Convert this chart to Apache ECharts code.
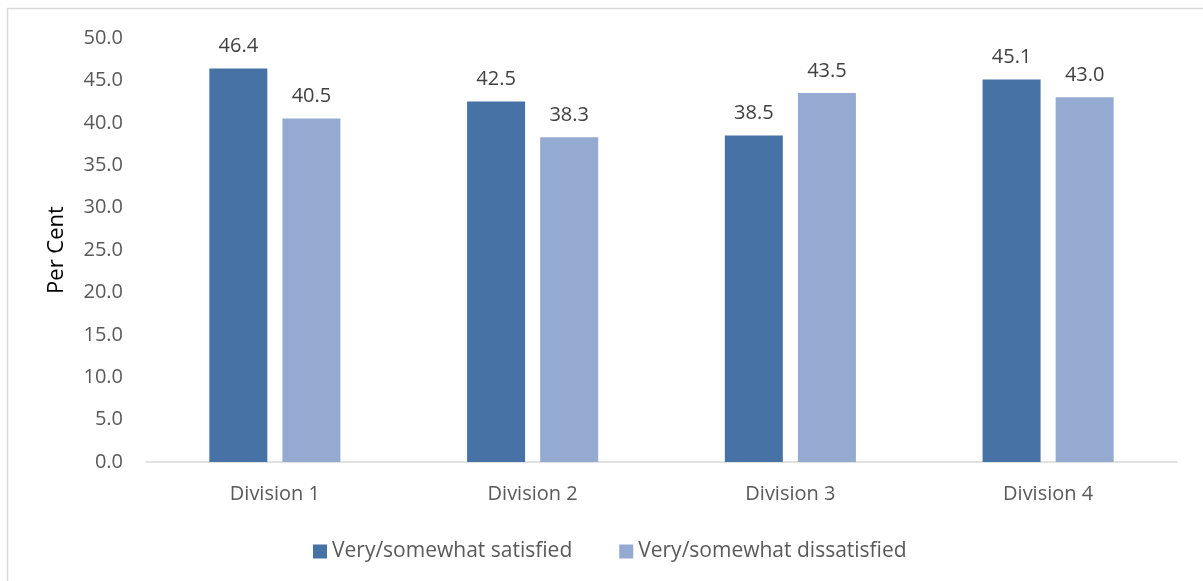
<!DOCTYPE html>
<html>
<head>
<meta charset="utf-8">
<script src="https://cdn.jsdelivr.net/npm/echarts@6/dist/echarts.min.js"></script>
<style>
  html, body { margin: 0; padding: 0; background: #fff; }
  #chart { width: 1203px; height: 581px; }
</style>
</head>
<body>
<div id="chart"></div>
<script>
const categories = ['Division 1', 'Division 2', 'Division 3', 'Division 4']
const satisfied = [46.4, 42.5, 38.5, 45.1]
const dissatisfied = [40.5, 38.3, 43.5, 43.0]
const seriesNames = ['Very/somewhat satisfied', 'Very/somewhat dissatisfied']
const yTicks = { min: 0, max: 50, interval: 5 }

const font = '"Open Sans", "DejaVu Sans", sans-serif'

const chart = echarts.init(document.getElementById('chart'))

function barSeries(name, data, color) {
  return {
    name: name,
    type: 'bar',
    data: data,
    barWidth: 58,
    barGap: '26%',
    itemStyle: { color: color },
    label: {
      show: true,
      position: 'top',
      distance: 12,
      fontFamily: font,
      fontSize: 20,
      color: '#404040',
      formatter(p) {
        return p.value.toFixed(1)
      }
    }
  }
}

chart.setOption({
  animation: false,
  textStyle: { fontFamily: font },
  graphic: [{
    type: 'rect',
    shape: { x: 7.5, y: 8.5, width: 1300, height: 700 },
    style: { fill: 'none', stroke: '#d9d9d9', lineWidth: 1.5 },
    silent: true
  }],
  grid: {
    left: 146,
    right: 26,
    top: 38,
    bottom: 119
  },
  legend: {
    data: seriesNames,
    left: 308,
    top: 536,
    itemWidth: 14,
    itemHeight: 14,
    itemGap: 47,
    icon: 'rect',
    textStyle: {
      fontFamily: font,
      fontSize: 21,
      color: '#595959'
    }
  },
  xAxis: {
    type: 'category',
    data: categories,
    axisTick: { show: false },
    axisLine: { lineStyle: { color: '#d9d9d9', width: 1.5 } },
    axisLabel: {
      fontFamily: font,
      fontSize: 20,
      color: '#595959',
      margin: 22
    }
  },
  yAxis: {
    type: 'value',
    min: yTicks.min,
    max: yTicks.max,
    interval: yTicks.interval,
    name: 'Per Cent',
    nameLocation: 'middle',
    nameGap: 78,
    nameTextStyle: {
      fontFamily: font,
      fontSize: 22,
      color: '#000'
    },
    splitLine: { show: false },
    axisLine: { show: false },
    axisTick: { show: false },
    axisLabel: {
      fontFamily: font,
      fontSize: 20,
      color: '#595959',
      margin: 23,
      formatter(v) {
        return v.toFixed(1)
      }
    }
  },
  series: [
    barSeries(seriesNames[0], satisfied, '#4672A6'),
    barSeries(seriesNames[1], dissatisfied, '#95AAD1')
  ]
})
</script>
</body>
</html>
